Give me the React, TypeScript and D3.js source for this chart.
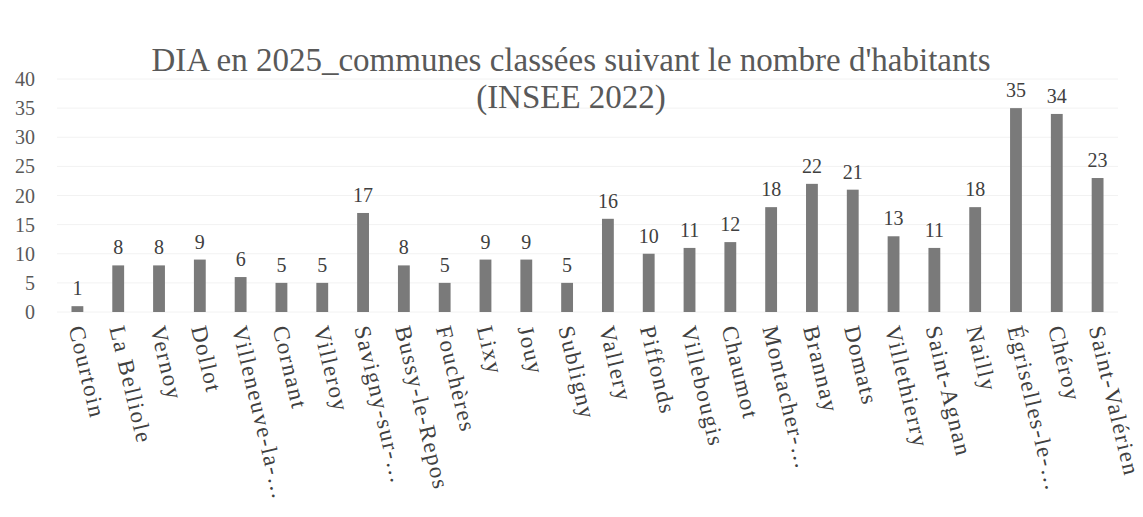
import React, { useEffect, useRef } from "react";
import * as d3 from "d3";

const communes = [
  "Courtoin", "La Belliole", "Vernoy", "Dollot", "Villeneuve-la-…", "Cornant",
  "Villeroy", "Savigny-sur-…", "Bussy-le-Repos", "Fouchères", "Lixy", "Jouy",
  "Subligny", "Vallery", "Piffonds", "Villebougis", "Chaumot", "Montacher-…",
  "Brannay", "Domats", "Villethierry", "Saint-Agnan", "Nailly", "Égriselles-le-…",
  "Chéroy", "Saint-Valérien",
];
const dia = [1, 8, 8, 9, 6, 5, 5, 17, 8, 5, 9, 9, 5, 16, 10, 11, 12, 18, 22, 21, 13, 11, 18, 35, 34, 23];
const yTicks = [0, 5, 10, 15, 20, 25, 30, 35, 40];
const titleLines = ["DIA en 2025_communes classées suivant le nombre d'habitants", "(INSEE 2022)"];

const W = 1143;
const H = 517;
const FONT = "'Liberation Serif', 'DejaVu Serif', serif";

const App = () => {
  const ref = useRef<SVGSVGElement>(null);

  useEffect(() => {
    const svg = d3.select(ref.current);
    svg.selectAll("*").remove();

    const x = d3.scaleBand<string>().domain(communes).range([57, 1118]).paddingInner(0.71).paddingOuter(0.355);
    const y = d3.scaleLinear().domain([0, 40]).range([312, 79]);

    svg.append("rect").attr("width", W).attr("height", H).attr("fill", "white");

    // faint gridlines
    svg
      .append("g")
      .selectAll("line")
      .data(yTicks)
      .enter()
      .append("line")
      .attr("x1", 57)
      .attr("x2", 1118)
      .attr("y1", (d) => y(d))
      .attr("y2", (d) => y(d))
      .attr("stroke", "#f2f2f2")
      .attr("stroke-width", 1);

    // y labels
    svg
      .append("g")
      .attr("font-family", FONT)
      .attr("font-size", 20)
      .attr("fill", "#595959")
      .attr("text-anchor", "end")
      .selectAll("text")
      .data(yTicks)
      .enter()
      .append("text")
      .attr("x", 35)
      .attr("y", (d) => y(d))
      .attr("dy", "0.35em")
      .text((d) => d);

    // bars
    svg
      .append("g")
      .attr("fill", "#7a7a7a")
      .selectAll("rect")
      .data(dia)
      .enter()
      .append("rect")
      .attr("x", (d, i) => x(communes[i])!)
      .attr("y", (d) => y(d))
      .attr("width", x.bandwidth())
      .attr("height", (d) => y(0) - y(d));

    // data labels
    svg
      .append("g")
      .attr("font-family", FONT)
      .attr("font-size", 20)
      .attr("fill", "#404040")
      .attr("text-anchor", "middle")
      .selectAll("text")
      .data(dia)
      .enter()
      .append("text")
      .attr("x", (d, i) => x(communes[i])! + x.bandwidth() / 2)
      .attr("y", (d) => y(d) - 11)
      .text((d) => d);

    // category labels
    svg
      .append("g")
      .attr("font-family", FONT)
      .attr("font-size", 23)
      .attr("letter-spacing", 1.6)
      .attr("fill", "#404040")
      .selectAll("text")
      .data(communes)
      .enter()
      .append("text")
      .attr("transform", (d) => `translate(${x(d)! + x.bandwidth() / 2 - 1},326) rotate(76.5)`)
      .attr("dy", "0.35em")
      .text((d) => d);

    // title
    svg
      .append("g")
      .attr("font-family", FONT)
      .attr("font-size", 33)
      .attr("fill", "#595959")
      .attr("text-anchor", "middle")
      .selectAll("text")
      .data(titleLines)
      .enter()
      .append("text")
      .attr("x", 571)
      .attr("y", (d, i) => 71 + i * 37)
      .text((d) => d);
  }, []);

  return (
    <svg
      ref={ref}
      width={W}
      height={H}
      style={{ position: "absolute", left: 0, top: 0 }}
    />
  );
};

export default App;
